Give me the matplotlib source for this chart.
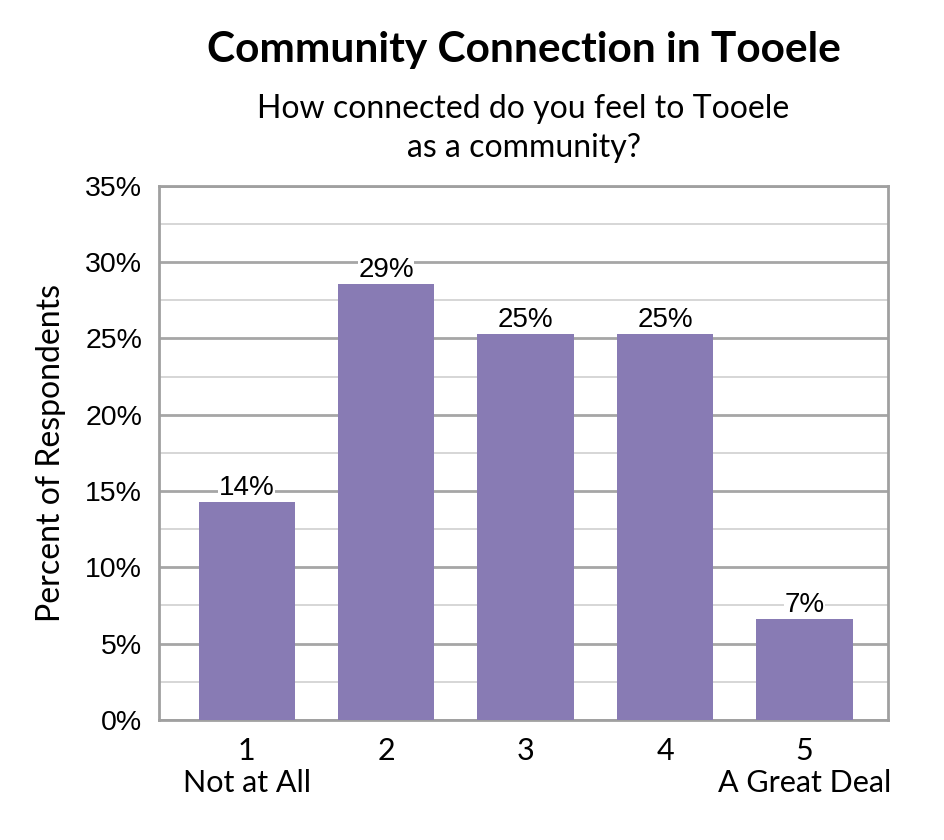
import matplotlib
matplotlib.use("Agg")
import matplotlib.pyplot as plt
from matplotlib.ticker import MultipleLocator, FuncFormatter

categories = ["1\nNot at All", "2", "3", "4", "5\nA Great Deal"]
values = [14.3, 28.6, 25.3, 25.3, 6.6]
labels = ["14%", "29%", "25%", "25%", "7%"]

BAR = "#887BB4"
GRID_MAJ = "#A6A6A6"
GRID_MIN = "#D0D0D0"

fig = plt.figure(figsize=(9.45, 8.4), dpi=100)
ax = fig.add_axes([0.168, 0.143, 0.772, 0.6357])

x = range(len(categories))
ax.bar(x, values, width=0.69, color=BAR, zorder=3)

ax.set_ylim(0, 35)
ax.set_xlim(-0.63, len(categories) - 0.4)
ax.yaxis.set_major_locator(MultipleLocator(5))
ax.yaxis.set_minor_locator(MultipleLocator(2.5))
ax.yaxis.set_major_formatter(FuncFormatter(lambda v, p: f"{v:.0f}%"))
ax.grid(axis="y", which="major", color=GRID_MAJ, lw=2, zorder=1)
ax.grid(axis="y", which="minor", color=GRID_MIN, lw=1.2, zorder=1)
ax.tick_params(axis="both", which="both", length=0)
ax.tick_params(axis="y", labelsize=20.5, pad=12)
ax.set_xticks(list(x))
ax.set_xticklabels(categories, fontsize=22, family="Lato", linespacing=1.2)
ax.tick_params(axis="x", pad=12)
for lab in ax.get_yticklabels():
    lab.set_family("Liberation Sans")
for sp in ax.spines.values():
    sp.set_color("#A0A0A0")
    sp.set_linewidth(2)

for xi, v, t in zip(x, values, labels):
    ax.text(xi, v + 0.05, t, ha="center", va="bottom", fontsize=20,
            family="Liberation Sans", zorder=4,
            bbox=dict(facecolor="white", edgecolor="none", pad=0.3))

ax.set_ylabel("Percent of Respondents", fontsize=23, family="Lato", labelpad=14)

fig.text(0.554, 0.94, "Community Connection in Tooele", ha="center", va="center",
         fontsize=30.5, weight="bold", family="Lato")
fig.text(0.554, 0.847, "How connected do you feel to Tooele\nas a community?", ha="center",
         va="center", fontsize=23, family="Lato", linespacing=1.38)

fig.savefig("out.png", dpi=100)
